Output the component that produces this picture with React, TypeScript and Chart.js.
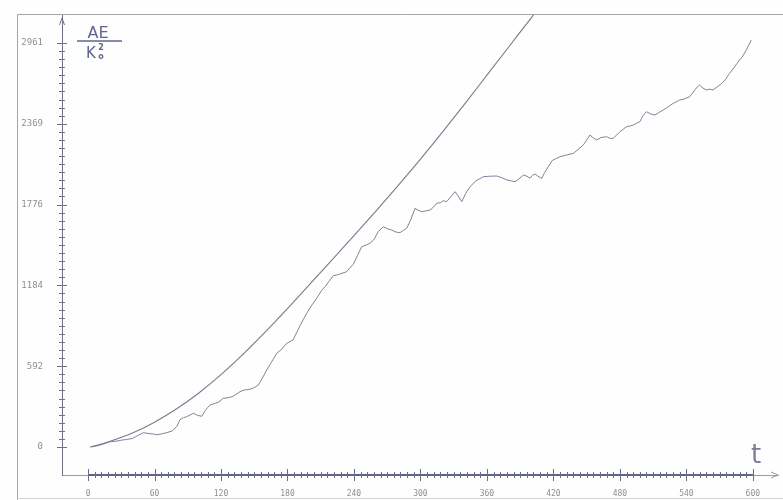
import React, { useEffect, useRef } from 'react';
import { Chart, registerables } from 'chart.js';

Chart.register(...registerables);

// ---- data ----
const smoothT = [2, 20, 40, 60, 80, 100, 120, 140, 160, 180, 200, 220, 240, 260, 280, 300, 320, 340, 360, 380, 400, 405];
const smoothV = [0, 42, 102, 182, 280, 396, 530, 680, 843, 1015, 1191, 1369, 1549, 1731, 1917, 2109, 2309, 2515, 2725, 2935, 3145, 3198];

const noisyT = [2.4, 8, 14, 19.9, 25, 30, 34.9, 40, 45, 49.9, 54, 58.9, 63, 67, 71, 76, 80, 83, 86, 89, 95, 99, 102.6, 106, 110, 114, 118, 122, 127, 131, 137, 141, 146, 150, 153.7, 157, 161.3, 165, 170.3, 174, 179.3, 185, 188.4, 192, 197.4, 202, 206.4, 211, 214, 218.4, 221.4, 224.5, 228, 233.5, 236, 239.4, 243, 247, 251, 254.5, 258, 262, 266.5, 270, 274, 278, 281.6, 285, 287.6, 291, 295.1, 298, 301.2, 305, 308.7, 312, 314.7, 318, 320.7, 323.7, 327, 331.2, 334, 337.3, 341, 344.8, 350, 356.8, 362, 368.8, 373, 377.9, 382, 385.4, 389, 392.9, 396, 398.9, 401, 403.4, 406, 409.5, 412, 415.4, 419, 423, 426, 432, 438, 443, 447, 450, 453, 456, 459, 463, 468, 471, 474, 480, 486, 489, 492, 495, 498, 501, 504, 508, 511.7, 515, 519, 524, 528, 531, 534, 538, 543, 547, 550, 552, 555, 558, 561, 564, 568, 572, 575, 579, 583, 588, 591, 594, 596, 598.5];
const noisyV = [0, 8, 22, 39, 42, 50, 56, 62, 85, 105, 100, 95, 90, 98, 105, 118, 150, 200, 215, 222, 247, 232, 225, 270, 308, 318, 330, 357, 362, 372, 405, 418, 423, 435, 454, 500, 564, 615, 687, 710, 760, 784, 840, 900, 980, 1040, 1090, 1150, 1175, 1224, 1255, 1261, 1270, 1285, 1310, 1340, 1400, 1468, 1480, 1493, 1520, 1580, 1614, 1600, 1590, 1575, 1571, 1590, 1603, 1660, 1749, 1735, 1724, 1730, 1737, 1760, 1786, 1790, 1805, 1798, 1830, 1871, 1840, 1798, 1860, 1908, 1950, 1981, 1984, 1986, 1975, 1957, 1950, 1944, 1965, 1993, 1985, 1969, 1990, 2001, 1985, 1969, 2010, 2054, 2100, 2116, 2127, 2140, 2152, 2185, 2213, 2250, 2286, 2265, 2250, 2268, 2274, 2262, 2262, 2310, 2347, 2352, 2359, 2372, 2384, 2430, 2457, 2440, 2433, 2450, 2469, 2495, 2518, 2530, 2543, 2550, 2567, 2610, 2640, 2652, 2630, 2616, 2622, 2616, 2640, 2664, 2690, 2738, 2780, 2836, 2865, 2909, 2940, 2982];

const yTickValues = [0, 592.2, 1184.4, 1776.6, 2368.8, 2961];
const yTickLabels = ['0', '592', '1184', '1776', '2369', '2961'];
const xTickValues = [0, 60, 120, 180, 240, 300, 360, 420, 480, 540, 600];
const xTickLabels = ['0', '60', '120', '180', '240', '300', '360', '420', '480', '540', '600'];
const yMinorStep = 59.22;
const yMinorCount = 50;
const xMinorStep = 6;
const xMinorCount = 100;

const X_MIN = -23.5;
const X_MAX = 622.7;
const Y_MIN = -205;
const Y_MAX = 3173;

const decorPlugin = {
  id: 'decor',
  beforeDraw(chart: any) {
    const ctx = chart.ctx;
    ctx.save();
    ctx.fillStyle = '#fefefe';
    ctx.fillRect(0, 0, chart.width, chart.height);
    ctx.restore();
  },
  afterDraw(chart: any) {
    const ctx = chart.ctx;
    const { left, right, top, bottom } = chart.chartArea;
    const xs = chart.scales.x;
    const ys = chart.scales.y;
    ctx.save();
    // paper frame
    ctx.strokeStyle = '#a4a4ac';
    ctx.lineWidth = 1;
    ctx.beginPath();
    ctx.moveTo(17.5, 14.5);
    ctx.lineTo(17.5, 500);
    ctx.moveTo(17.5, 14.5);
    ctx.lineTo(783, 14.5);
    ctx.stroke();
    ctx.strokeStyle = '#d4d4d8';
    ctx.beginPath();
    ctx.moveTo(17, 498.5);
    ctx.lineTo(783, 498.5);
    ctx.stroke();

    // y axis cross ticks
    ctx.strokeStyle = '#70707e';
    ctx.lineWidth = 1;
    ctx.beginPath();
    for (let i = 0; i <= yMinorCount; i++) {
      const py = Math.round(ys.getPixelForValue(i * yMinorStep)) + 0.5;
      const w = i % 10 === 0 ? 5 : 3;
      ctx.moveTo(left - w, py);
      ctx.lineTo(left + w, py);
    }
    ctx.stroke();
    // y arrow
    ctx.beginPath();
    ctx.moveTo(left - 2.5, top + 11);
    ctx.lineTo(left, top + 4);
    ctx.lineTo(left + 2.5, top + 11);
    ctx.stroke();

    // x axis dense band
    const x0 = xs.getPixelForValue(0);
    const x600 = xs.getPixelForValue(600);
    ctx.strokeStyle = '#5e6382';
    ctx.lineWidth = 2;
    ctx.beginPath();
    ctx.moveTo(x0, bottom);
    ctx.lineTo(x600, bottom);
    ctx.stroke();
    ctx.lineWidth = 1;
    ctx.strokeStyle = '#6a6e8a';
    ctx.beginPath();
    for (let i = 0; i <= xMinorCount; i++) {
      const px = Math.round(xs.getPixelForValue(i * xMinorStep)) + 0.5;
      const h = i % 10 === 0 ? 6 : 3;
      ctx.moveTo(px, bottom - h);
      ctx.lineTo(px, bottom + h);
    }
    ctx.stroke();
    // x arrow
    ctx.strokeStyle = '#9a9aa8';
    ctx.beginPath();
    ctx.moveTo(right - 7, bottom - 3);
    ctx.lineTo(right, bottom);
    ctx.lineTo(right - 7, bottom + 3);
    ctx.stroke();

    // handwritten axis titles
    ctx.fillStyle = '#5c6690';
    ctx.strokeStyle = '#5c6690';
    ctx.textAlign = 'center';
    ctx.textBaseline = 'alphabetic';
    ctx.font = '16px "DejaVu Sans"';
    ctx.fillText('AE', 98, 38);
    ctx.lineWidth = 1.5;
    ctx.beginPath();
    ctx.moveTo(77, 41);
    ctx.lineTo(122, 41);
    ctx.stroke();
    ctx.font = '15px "DejaVu Sans"';
    ctx.fillText('K', 91, 58);
    ctx.font = 'bold 8px "DejaVu Sans"';
    ctx.fillText('2', 101, 50);
    ctx.fillText('o', 101, 59);
    ctx.fillStyle = '#7c7e98';
    ctx.font = '26px "DejaVu Sans"';
    ctx.fillText('t', 756, 463);
    ctx.restore();
  },
};

export default function App() {
  const canvasRef = useRef<HTMLCanvasElement | null>(null);

  useEffect(() => {
    if (!canvasRef.current) return;
    const smoothData = smoothT.map((t, i) => ({ x: t, y: smoothV[i] }));
    const noisyData = noisyT.map((t, i) => ({ x: t, y: noisyV[i] }));
    const chart = new Chart(canvasRef.current, {
      type: 'line',
      data: {
        datasets: [
          {
            label: 'smooth',
            data: smoothData,
            borderColor: '#7a7a8e',
            borderWidth: 1.1,
            pointRadius: 0,
            cubicInterpolationMode: 'monotone',
            fill: false,
          },
          {
            label: 'measured',
            data: noisyData,
            borderColor: '#83839a',
            borderWidth: 1,
            pointRadius: 0,
            tension: 0,
            fill: false,
          },
        ],
      },
      options: {
        animation: false,
        responsive: false,
        devicePixelRatio: 1,
        layout: { padding: { top: 14, right: 5, left: 0, bottom: 0 } },
        plugins: { legend: { display: false }, tooltip: { enabled: false } },
        scales: {
          x: {
            type: 'linear',
            min: X_MIN,
            max: X_MAX,
            grid: { display: false, drawTicks: false },
            border: { display: true, color: '#9a9aa8', width: 1 },
            afterBuildTicks: (scale: any) => {
              scale.ticks = xTickValues.map((v) => ({ value: v }));
            },
            afterFit: (scale: any) => {
              scale.height = 25;
              scale.paddingLeft = 0;
              scale.paddingRight = 0;
            },
            ticks: {
              autoSkip: false,
              maxRotation: 0,
              padding: 14,
              color: '#8e8e96',
              font: { family: '"DejaVu Sans Mono"', size: 8 },
              callback: (value: any) => {
                const idx = xTickValues.indexOf(Number(value));
                return idx >= 0 ? xTickLabels[idx] : '';
              },
            },
          },
          y: {
            type: 'linear',
            min: Y_MIN,
            max: Y_MAX,
            grid: { display: false, drawTicks: false },
            border: { display: true, color: '#70707e', width: 1 },
            afterBuildTicks: (scale: any) => {
              scale.ticks = yTickValues.map((v) => ({ value: v }));
            },
            afterFit: (scale: any) => {
              scale.width = 62;
              scale.paddingTop = 0;
              scale.paddingBottom = 0;
            },
            ticks: {
              autoSkip: false,
              padding: 19,
              color: '#8e8e96',
              font: { family: '"DejaVu Sans Mono"', size: 9 },
              callback: (value: any) => {
                const idx = yTickValues.indexOf(Number(value));
                return idx >= 0 ? yTickLabels[idx] : '';
              },
            },
          },
        },
      },
      plugins: [decorPlugin],
    } as any);
    return () => chart.destroy();
  }, []);

  return (
    <div style={{ position: 'absolute', left: 0, top: 0, width: 783, height: 500, background: '#fefefe' }}>
      <canvas ref={canvasRef} width={783} height={500} style={{ display: 'block' }} />
    </div>
  );
}
